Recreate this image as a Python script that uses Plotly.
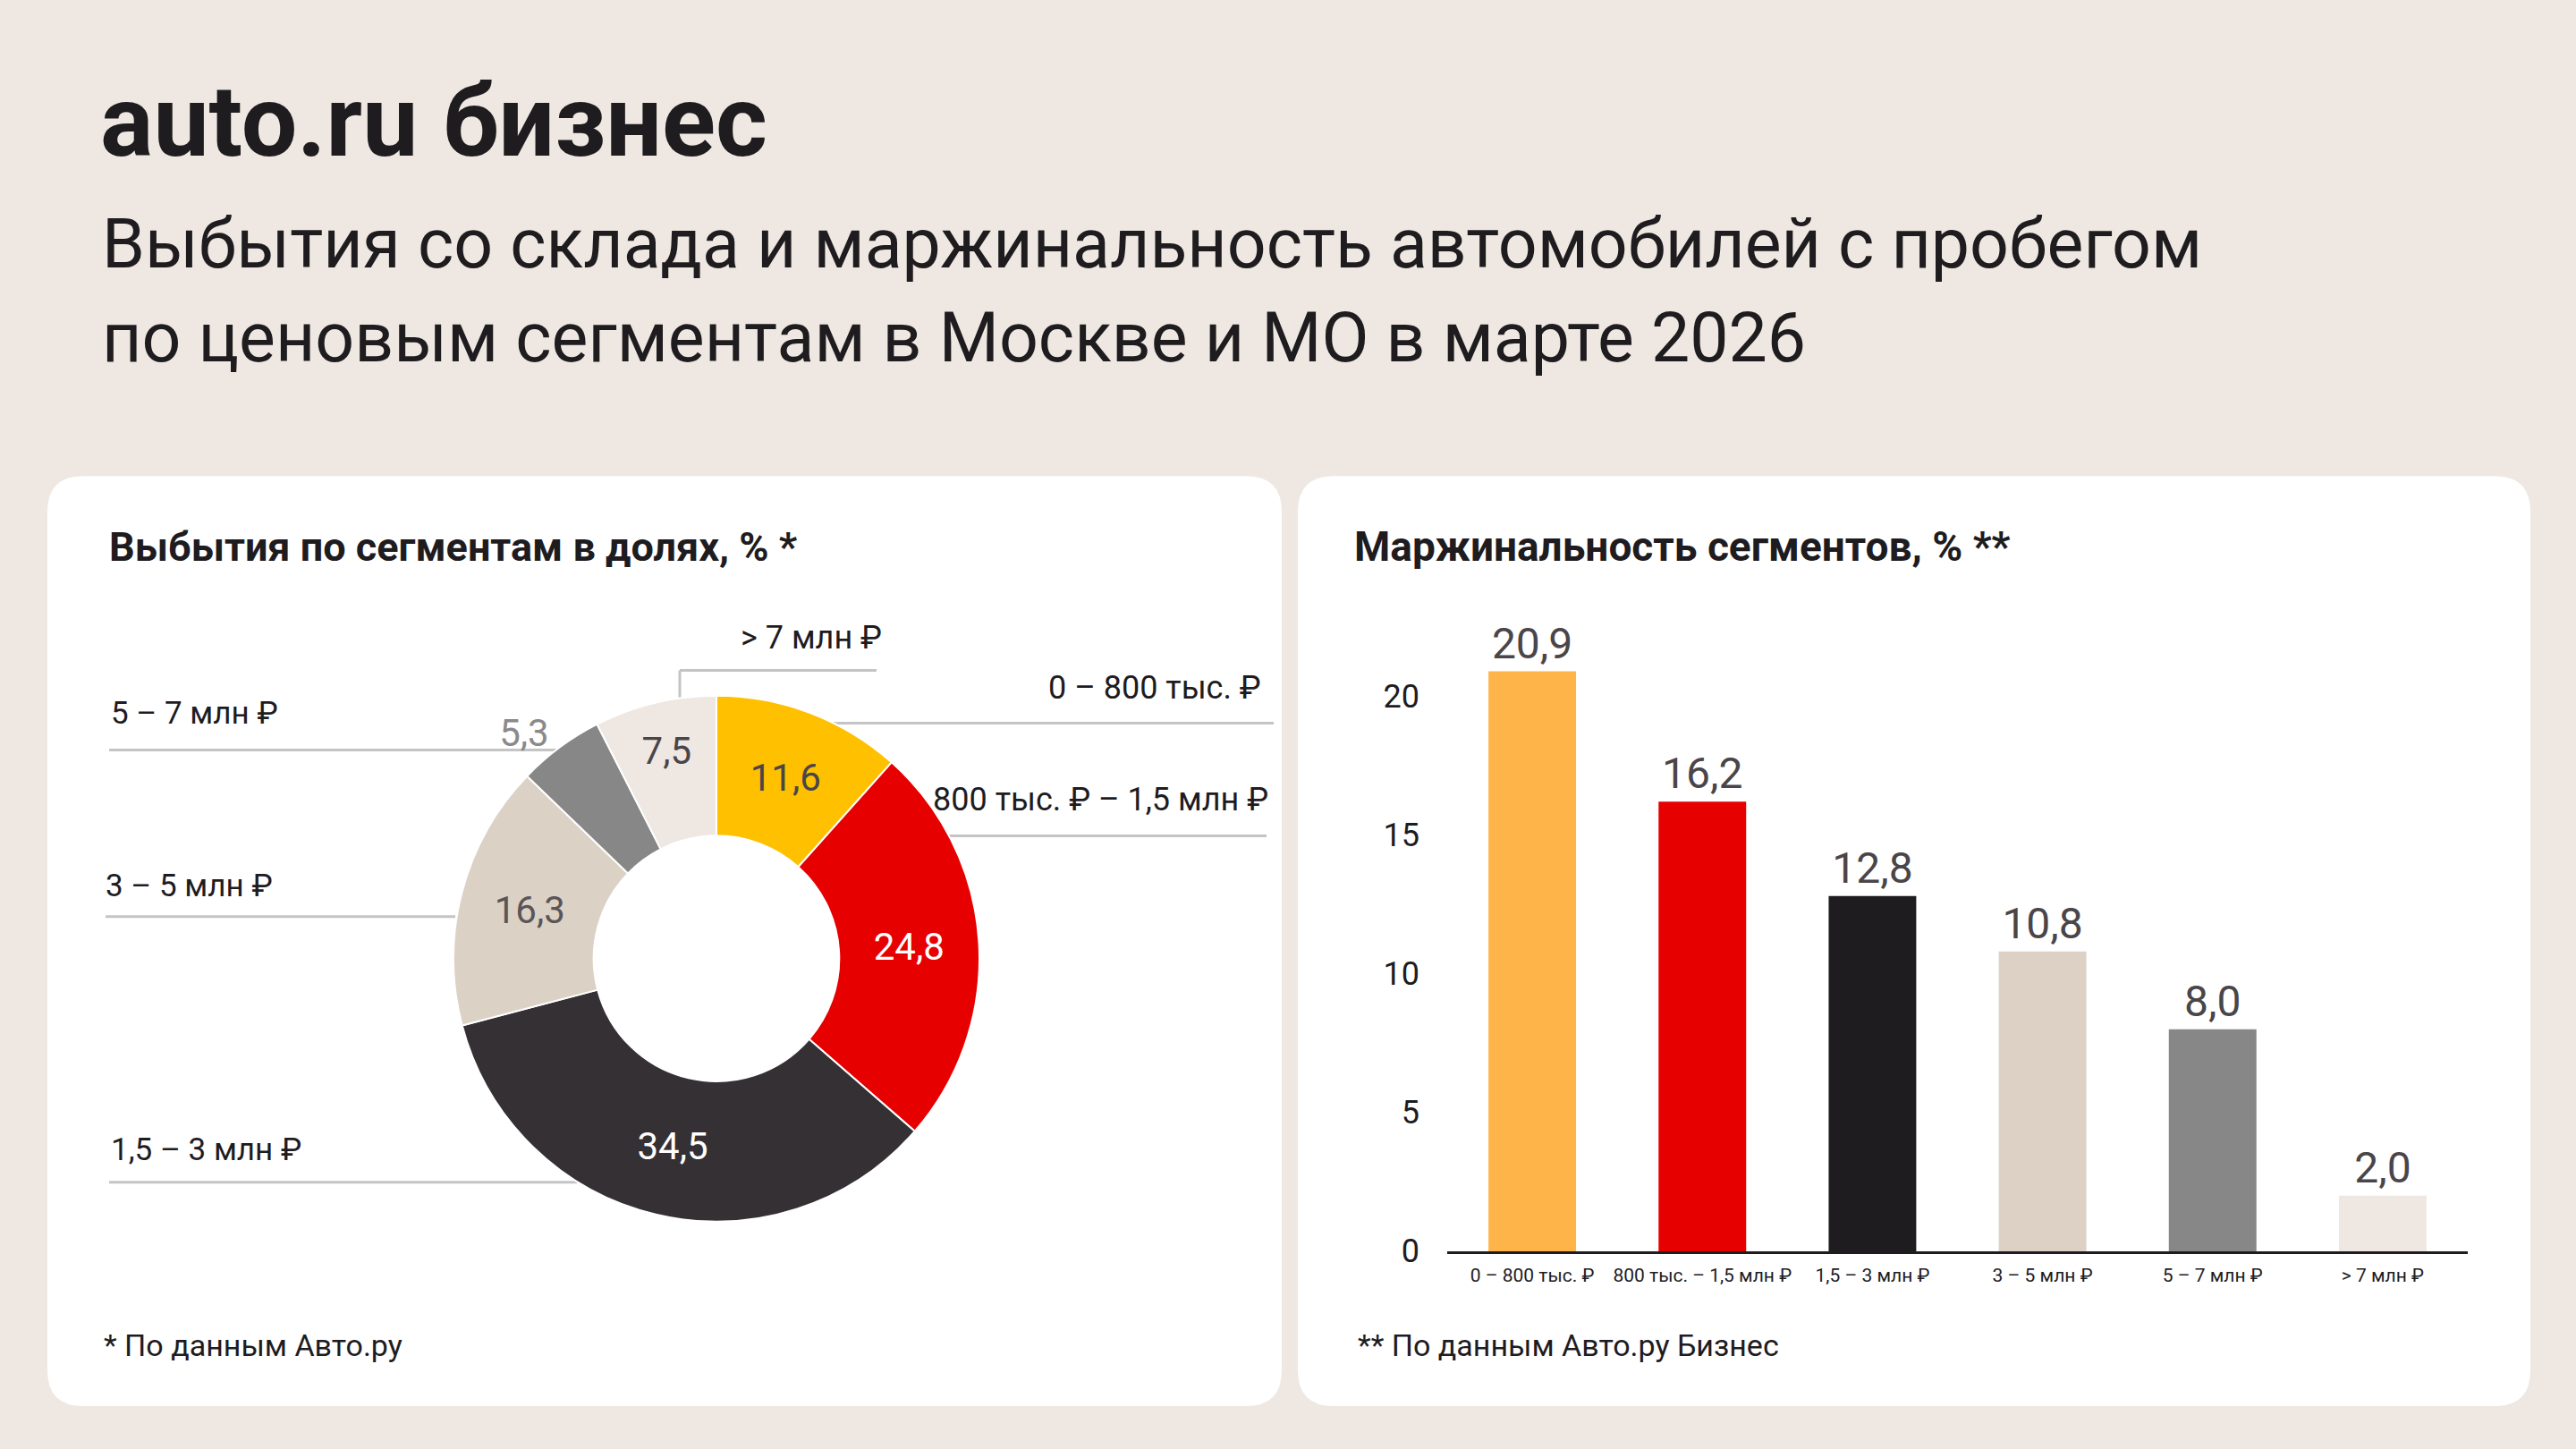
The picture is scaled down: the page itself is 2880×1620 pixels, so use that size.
import plotly.graph_objects as go

# ---------------- data ----------------
segments = ["0 – 800 тыс. ₽", "800 тыс. ₽ – 1,5 млн ₽", "1,5 – 3 млн ₽",
            "3 – 5 млн ₽", "5 – 7 млн ₽", "> 7 млн ₽"]
share_values = [11.6, 24.8, 34.5, 16.3, 5.3, 7.5]
pie_colors = ["#FFC000", "#E60000", "#353034", "#DCD1C5", "#878787", "#EFE8E2"]
pie_text_colors = ["#4A4549", "#FFFFFF", "#FFFFFF", "#5A5558", "#8A8A8A", "#4A4549"]
pie_text_pos = ["inside", "inside", "inside", "inside", "outside", "inside"]

bar_categories = ["0 – 800 тыс. ₽", "800 тыс. – 1,5 млн ₽", "1,5 – 3 млн ₽",
                  "3 – 5 млн ₽", "5 – 7 млн ₽", "> 7 млн ₽"]
margin_values = [20.9, 16.2, 12.8, 10.8, 8.0, 2.0]
bar_colors = ["#FFB44A", "#E60000", "#1E1C1F", "#DDD1C5", "#878787", "#EFE8E2"]
y_ticks = [0, 5, 10, 15, 20]

logo_text = "auto.ru бизнес"
title_lines = ["Выбытия со склада и маржинальность автомобилей с пробегом",
               "по ценовым сегментам в Москве и МО в марте 2026"]
left_title = "Выбытия по сегментам в долях, % *"
right_title = "Маржинальность сегментов, % **"
left_note = "* По данным Авто.ру"
right_note = "** По данным Авто.ру Бизнес"

# ---------------- helpers ----------------
W, H = 2880, 1620
H_LAYOUT = 1597          # vertical layout scale (keeps content proportioned in the capture)
FONT = "Roboto"
DARK = "#1E1C1F"
BG = "#EFE8E2"
LINE = "#C4C4C4"


def px(x):
    return x / W


def py(y):
    return 1 - y / H_LAYOUT


def fmt(v):
    return f"{v:.1f}".replace(".", ",")


def rounded_rect(x0, y0, x1, y1, r):
    pts = [
        f"M {px(x0 + r)} {py(y0)}",
        f"L {px(x1 - r)} {py(y0)}",
        f"Q {px(x1)} {py(y0)} {px(x1)} {py(y0 + r)}",
        f"L {px(x1)} {py(y1 - r)}",
        f"Q {px(x1)} {py(y1)} {px(x1 - r)} {py(y1)}",
        f"L {px(x0 + r)} {py(y1)}",
        f"Q {px(x0)} {py(y1)} {px(x0)} {py(y1 - r)}",
        f"L {px(x0)} {py(y0 + r)}",
        f"Q {px(x0)} {py(y0)} {px(x0 + r)} {py(y0)}",
        "Z",
    ]
    return " ".join(pts)


shapes = []
annotations = []


def text(x, y, s, size, color=DARK, anchor="left", bold=False, family=FONT):
    annotations.append(dict(
        x=px(x), y=py(y), xref="paper", yref="paper", text=f"<b>{s}</b>" if bold else s,
        showarrow=False, xanchor=anchor, yanchor="middle",
        font=dict(family=family, size=size, color=color)))


def hline(x0, x1, y):
    shapes.append(dict(type="line", xref="paper", yref="paper", layer="below",
                       x0=px(x0), x1=px(x1), y0=py(y), y1=py(y),
                       line=dict(color=LINE, width=3)))


def vline(x, y0, y1):
    shapes.append(dict(type="line", xref="paper", yref="paper", layer="below",
                       x0=px(x), x1=px(x), y0=py(y0), y1=py(y1),
                       line=dict(color=LINE, width=3)))


# panels
for x0, x1 in [(53, 1433), (1451, 2829)]:
    shapes.append(dict(type="path", xref="paper", yref="paper", layer="below",
                       path=rounded_rect(x0, 532, x1, 1571, 40),
                       fillcolor="#FFFFFF", line=dict(width=0)))

# header
text(110, 136, logo_text, 111, bold=True)
text(112, 273, title_lines[0], 77)
text(112, 378, title_lines[1], 77)

# panel titles and notes
text(120, 611, left_title, 45, bold=True)
text(1512, 611, right_title, 46, bold=True)
text(114, 1503, left_note, 34)
text(1516, 1503, right_note, 34)

# pie leader lines + labels
vline(760, 749, 780)
hline(760, 980, 749)
text(826, 713, segments[5], 36)

hline(931, 1424, 808)
text(1412, 769, segments[0], 36, anchor="right")

hline(1055, 1416, 934)
text(1420, 893, segments[1], 36, anchor="right")

hline(122, 623, 838)
text(122, 797, segments[4], 35)

hline(118, 509, 1024)
text(116, 990, segments[3], 35)

hline(122, 645, 1321)
text(122, 1285, segments[2], 35)

fig = go.Figure()

# donut
cx, cy, R = 801, 1071, 294
fig.add_trace(go.Pie(
    values=share_values, labels=segments, sort=False, direction="clockwise",
    rotation=0, hole=0.467,
    marker=dict(colors=pie_colors, line=dict(color="#FFFFFF", width=2)),
    text=[fmt(v) for v in share_values], textinfo="text",
    textposition=pie_text_pos, insidetextorientation="horizontal",
    textfont=dict(family=FONT, size=42, color=pie_text_colors),
    showlegend=False, hoverinfo="skip",
    domain=dict(x=[px(cx - R), px(cx + R)], y=[py(cy + R), py(cy - R)]),
))

# bars
fig.add_trace(go.Bar(
    x=bar_categories, y=margin_values, marker=dict(color=bar_colors, line=dict(width=0)),
    text=[fmt(v) for v in margin_values], textposition="outside", cliponaxis=False,
    textfont=dict(family=FONT, size=48, color="#4A4549"),
    width=0.515, showlegend=False, hoverinfo="skip",
    xaxis="x", yaxis="y",
))

fig.update_layout(
    width=W, height=H, autosize=False,
    margin=dict(l=0, r=0, t=0, b=0),
    paper_bgcolor=BG, plot_bgcolor="rgba(0,0,0,0)",
    font=dict(family=FONT, color=DARK),
    shapes=shapes, annotations=annotations,
    uniformtext=dict(minsize=42, mode="show"),
    xaxis=dict(domain=[px(1618), px(2759)], range=[-0.5, 5.5], showgrid=False,
               zeroline=False, showline=True, linecolor=DARK, linewidth=3,
               ticks="", tickfont=dict(family=FONT, size=21, color=DARK),
               ticklabelstandoff=6, fixedrange=True),
    yaxis=dict(domain=[py(1398), py(1398 - 23 * 31)], range=[0, 23], showgrid=False,
               zeroline=False, showline=False, tickvals=y_ticks, ticks="",
               tickfont=dict(family=FONT, size=36, color=DARK),
               ticklabelstandoff=30, fixedrange=True),
)

fig.write_html(
    "out.html",
    config={"displayModeBar": False},
    post_script="document.body.style.margin='0';document.body.style.padding='0';"
                "document.body.style.background='#EFE8E2';"
                "document.documentElement.style.background='#EFE8E2';",
)
